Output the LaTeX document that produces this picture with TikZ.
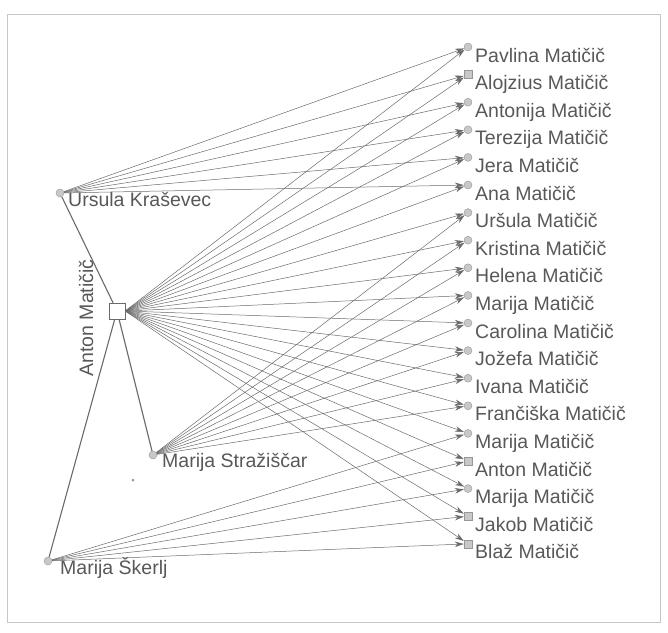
\documentclass[tikz,border=0pt]{standalone}
\usepackage{fontspec}
\setmainfont{Liberation Sans}
\usetikzlibrary{arrows.meta}
\definecolor{ink}{HTML}{585858}
\definecolor{wire}{HTML}{6A6A6A}
\definecolor{markfill}{HTML}{C8C8C8}
\begin{document}
\begin{tikzpicture}[x=1pt,y=-1pt,
  fem/.style={circle,draw=wire!70,fill=markfill,inner sep=0pt,minimum size=8pt},
  male/.style={rectangle,draw=wire!70,fill=markfill,inner sep=0pt,minimum size=8pt},
  lbl/.style={anchor=base west,text=ink,font=\fontsize{19.5}{19.5}\selectfont,inner sep=0pt},
  kid/.style={-{Stealth[length=9pt,width=5.5pt]},draw=wire,line width=0.5pt},
  rel/.style={draw=wire,line width=1.1pt}]
\useasboundingbox (0,0) rectangle (668,632);
\draw[gray!45,line width=0.8pt] (7,14) rectangle (660,622);

% parents
\node[fem] (u) at (60,193) {};
\node[lbl] (ulbl) at (68,206) {Ursula Kraševec};
\node[fem] (s) at (153,455) {};
\node[lbl] (slbl) at (162,467) {Marija Stražiščar};
\node[fem] (k) at (48,561) {};
\node[lbl] (klbl) at (60,574) {Marija Škerlj};
\node[rectangle,draw=wire,fill=white,minimum size=16pt,inner sep=0pt] (anton) at (117,311) {};
\node[lbl,rotate=90,anchor=center] (antonlbl) at (86,318) {Anton Matičič};
\node[circle,fill=wire!70,inner sep=0pt,minimum size=3pt] (dot) at (133,480) {};

% children
\foreach \i/\n/\t in {0/Pavlina/fem,1/Alojzius/male,2/Antonija/fem,3/Terezija/fem,
  4/Jera/fem,5/Ana/fem,6/Uršula/fem,7/Kristina/fem,8/Helena/fem,9/Marija/fem,
  10/Carolina/fem,11/Jožefa/fem,12/Ivana/fem,13/Frančiška/fem,14/Marija/fem,
  15/Anton/male,16/Marija/fem,17/Jakob/male,18/Blaž/male}{
  \node[\t] (c\i) at (468,{47+27.6*\i}) {};
  \node[lbl] (l\i) at (475,{62+27.6*\i}) {\n\ Matičič};
}

% relations
\draw[rel] (anton) -- (u);
\draw[rel] (anton) -- (s);
\draw[rel] (anton) -- (k);

% arrows
\foreach \i in {0,...,18}{\draw[kid] (anton.east) -- (c\i);}
\foreach \i in {0,...,5}{\draw[kid] (u) -- (c\i);}
\foreach \i in {6,...,13}{\draw[kid] (s) -- (c\i);}
\foreach \i in {14,...,18}{\draw[kid] (k) -- (c\i);}
\end{tikzpicture}
\end{document}
